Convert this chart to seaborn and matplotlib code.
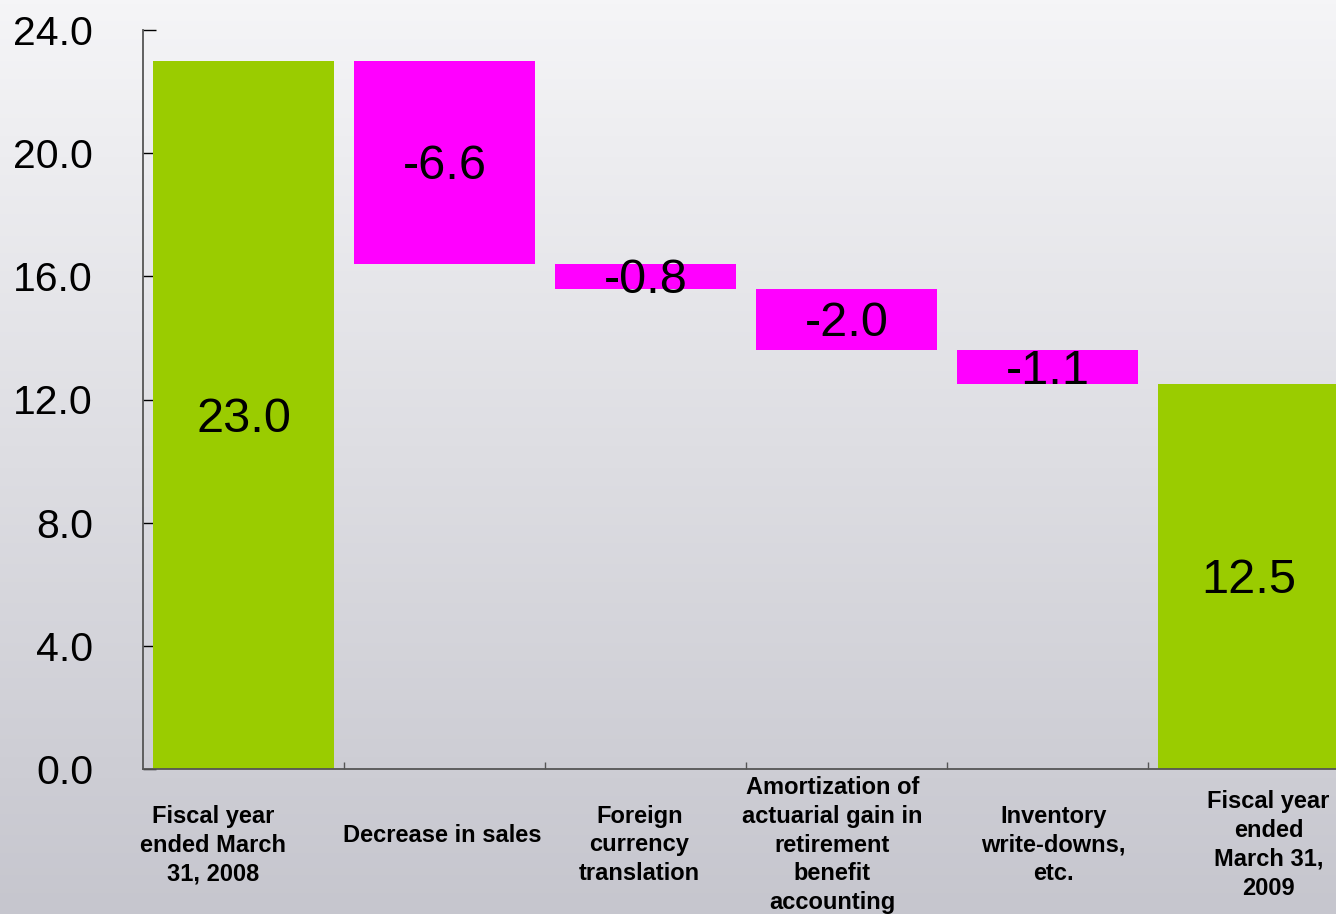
import numpy as np
import pandas as pd
import matplotlib
matplotlib.use("Agg")
import matplotlib.pyplot as plt
import matplotlib.transforms as mtransforms
import seaborn as sns

# ---- data ----
categories = [
    "Fiscal year\nended March\n31, 2008",
    "Decrease in sales",
    "Foreign\ncurrency\ntranslation",
    "Amortization of\nactuarial gain in\nretirement\nbenefit\naccounting",
    "Inventory\nwrite-downs,\netc.",
    "Fiscal year\nended\nMarch 31,\n2009",
]
values = [23.0, -6.6, -0.8, -2.0, -1.1, 12.5]
is_total = [True, False, False, False, False, True]
yticks = [0, 4, 8, 12, 16, 20, 24]

# waterfall geometry derived from data
bottoms, heights = [], []
running = 0.0
for v, tot in zip(values, is_total):
    if tot:
        bottoms.append(0.0)
        heights.append(v)
        running = v
    else:
        running = running + v
        bottoms.append(running)
        heights.append(-v)

colors = ["#9ACC00" if t else "#FF00FF" for t in is_total]
label_dx = [-0.15, -0.01, -0.03, -0.07, 0.03, 0.10]
label_dy_px = [0, -9, 0, 0, 0, 0]

sns.set_theme(style="white")
plt.rcParams["font.family"] = ["Liberation Sans", "DejaVu Sans"]

W, H = 1336, 914
fig = plt.figure(figsize=(W / 100, H / 100), dpi=100)

# gradient background
bg = fig.add_axes([0, 0, 1, 1], zorder=-10)
grad = np.linspace(0, 1, 256).reshape(-1, 1)
top = np.array([245, 245, 247]) / 255
bot = np.array([198, 198, 206]) / 255
img = top + (bot - top) * grad[:, :, None]
bg.imshow(img, aspect="auto", extent=[0, 1, 0, 1])
bg.set_axis_off()

left = 143 / W
bottom_ = (H - 769) / H
topy = (H - 30) / H
right = (143 + 6 * 201) / W
ax = fig.add_axes([left, bottom_, right - left, topy - bottom_])
ax.set_facecolor("none")

df = pd.DataFrame({"cat": categories, "height": heights})
sns.barplot(data=df, x="cat", y="height", order=categories, color="#9ACC00",
            width=0.9, saturation=1, linewidth=0, ax=ax)
for p, b, h, c in zip(ax.patches, bottoms, heights, colors):
    p.set_y(b)
    p.set_height(h)
    p.set_facecolor(c)

# value labels
for i, (v, b, h) in enumerate(zip(values, bottoms, heights)):
    ax.annotate(f"{v:.1f}", xy=(i, b + h / 2), xytext=(0, -3),
                textcoords="offset points", ha="center", va="center",
                fontsize=35, color="black", zorder=5)

ax.set_xlim(-0.5, len(categories) - 0.5)
ax.set_ylim(0, 24)
ax.set_yticks(yticks)
ax.set_yticklabels([f"{t:.1f}" for t in yticks])
ax.tick_params(axis="y", direction="in", length=9, width=1, color="black",
               pad=36, labelsize=29.5, labelcolor="black", left=True)
ax.set_xticks([])
ax.set_xticks(np.arange(0.5, len(categories) - 0.5, 1), minor=True)
ax.tick_params(axis="x", which="minor", direction="in", length=5, width=1,
               color="#555555", bottom=True)
ax.set_xlabel("")
ax.set_ylabel("")

for s in ["top", "right"]:
    ax.spines[s].set_visible(False)
for s in ["left", "bottom"]:
    ax.spines[s].set_color("#555555")
    ax.spines[s].set_linewidth(1.3)

trans = mtransforms.blended_transform_factory(ax.transData, ax.transAxes)
yoff = -76 / (769 - 30)
for i, (c, dx, dy) in enumerate(zip(categories, label_dx, label_dy_px)):
    ax.annotate(c, xy=(i + dx, yoff), xycoords=trans,
                xytext=(0, -dy * 0.72), textcoords="offset points",
                ha="center", va="center", fontsize=17, fontweight="bold",
                color="black", linespacing=1.32, annotation_clip=False)

fig.savefig("out.png", dpi=100)
